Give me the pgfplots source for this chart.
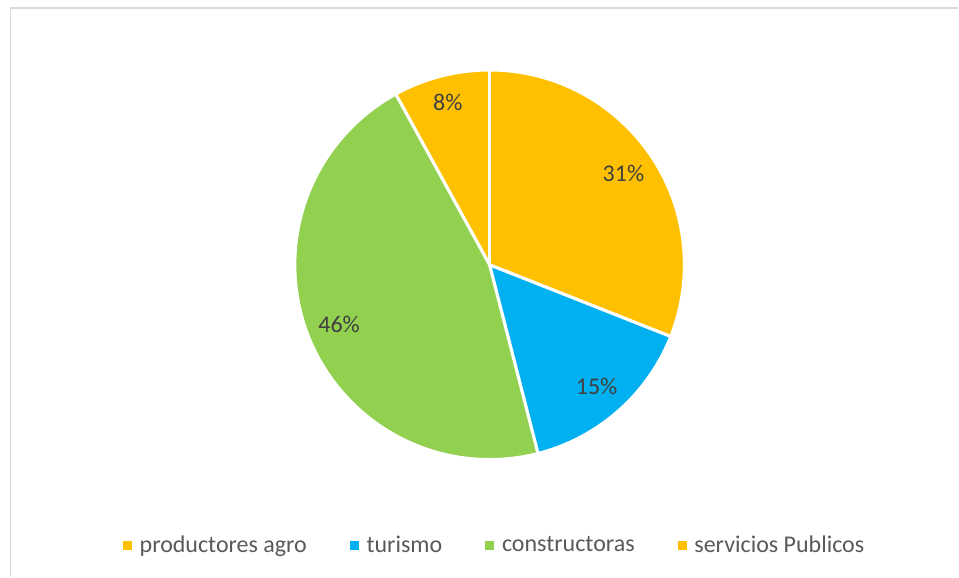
\documentclass[border=0pt]{standalone}
\usepackage{pgfplots}
\pgfplotsset{compat=1.18}
\usepackage{fontspec}
\setmainfont{Carlito}

\definecolor{agro}{HTML}{FFC000}
\definecolor{turis}{HTML}{00B0F0}
\definecolor{constr}{HTML}{92D050}
\definecolor{serv}{HTML}{FFC000}
\definecolor{lbl}{HTML}{404040}
\definecolor{legtxt}{HTML}{595959}
\definecolor{framegray}{HTML}{D9D9D9}

% shares in percent, clockwise from 12 o'clock
\def\valA{31}\def\valB{15}\def\valC{46}\def\valD{8}

\pgfmathsetmacro\aA{90}
\pgfmathsetmacro\aB{\aA-3.6*\valA}
\pgfmathsetmacro\aC{\aB-3.6*\valB}
\pgfmathsetmacro\aD{\aC-3.6*\valC}
\pgfmathsetmacro\aE{\aD-3.6*\valD}
\pgfmathsetmacro\mA{(\aA+\aB)/2}
\pgfmathsetmacro\mB{(\aB+\aC)/2}
\pgfmathsetmacro\mC{(\aC+\aD)/2}
\pgfmathsetmacro\mD{(\aD+\aE)/2}

\def\pieR{97.5pt}
\def\lblR{81pt}

\begin{document}
\begin{tikzpicture}
\begin{axis}[
  x=0.5pt, y=0.5pt,
  xmin=0, xmax=959, ymin=0, ymax=577,
  hide axis, clip=false,
  legend columns=4,
  legend style={at={(axis cs:496,31)}, anchor=center, draw=none, fill=none,
    text=legtxt, font=\fontsize{12}{14}\selectfont,
    /tikz/every odd column/.append style={column sep=2pt},
    /tikz/every even column/.append style={column sep=19.5pt}},
  legend image code/.code={\fill[#1] (0pt,-2pt) rectangle (4pt,2pt);},
]
\path (axis cs:0,0) rectangle (axis cs:959,577);
\draw[framegray, line width=0.8pt] (axis cs:10.5,0) -- (axis cs:10.5,569) -- (axis cs:959,569);

\fill[agro] (axis cs:490,312) -- ++(\aA:\pieR) arc[start angle=\aA, end angle=\aB, radius=\pieR] -- cycle;
\fill[turis] (axis cs:490,312) -- ++(\aB:\pieR) arc[start angle=\aB, end angle=\aC, radius=\pieR] -- cycle;
\fill[constr] (axis cs:490,312) -- ++(\aC:\pieR) arc[start angle=\aC, end angle=\aD, radius=\pieR] -- cycle;
\fill[serv] (axis cs:490,312) -- ++(\aD:\pieR) arc[start angle=\aD, end angle=\aE, radius=\pieR] -- cycle;
\draw[white, line width=1.6pt] (axis cs:490,312) -- ++(\aA:\pieR);
\draw[white, line width=1.6pt] (axis cs:490,312) -- ++(\aB:\pieR);
\draw[white, line width=1.6pt] (axis cs:490,312) -- ++(\aC:\pieR);
\draw[white, line width=1.6pt] (axis cs:490,312) -- ++(\aD:\pieR);
\draw[white, line width=1.6pt] (axis cs:490,312) circle[radius=\pieR];

\path (axis cs:490,312) ++(\mA:\lblR) node[text=lbl, font=\fontsize{12}{14}\selectfont] {\valA\%};
\path (axis cs:490,312) ++(\mB:\lblR) node[text=lbl, font=\fontsize{12}{14}\selectfont] {\valB\%};
\path (axis cs:490,312) ++(\mC:\lblR) node[text=lbl, font=\fontsize{12}{14}\selectfont] {\valC\%};
\path (axis cs:490,312) ++(\mD:84pt) node[text=lbl, font=\fontsize{12}{14}\selectfont] {\valD\%};

\addlegendimage{agro}
\addlegendentry{productores agro}
\addlegendimage{turis}
\addlegendentry{turismo}
\addlegendimage{constr}
\addlegendentry{constructoras}
\addlegendimage{serv}
\addlegendentry{servicios Publicos}
\end{axis}
\end{tikzpicture}
\end{document}
